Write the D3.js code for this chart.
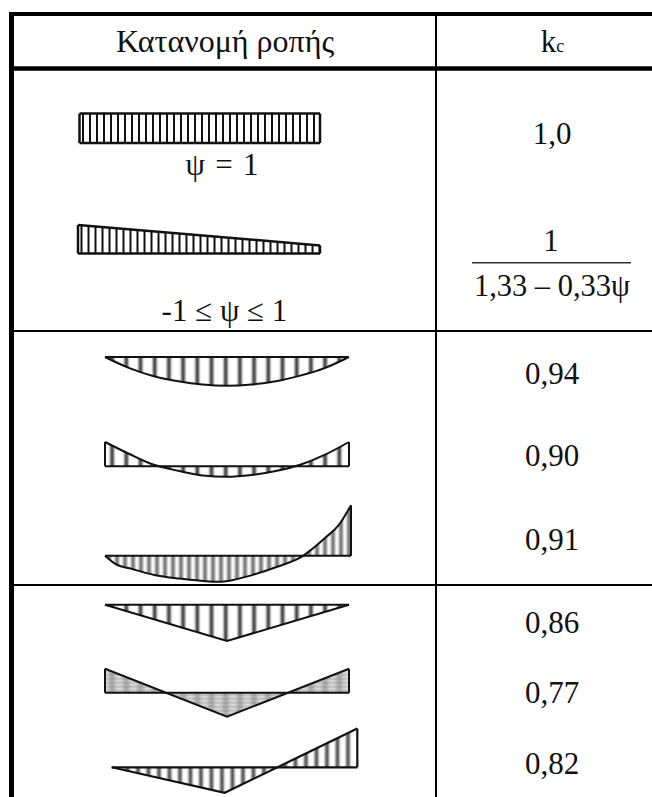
<!DOCTYPE html>
<html>
<head>
<meta charset="utf-8">
<script src="https://cdn.jsdelivr.net/npm/d3@7"></script>
<style>
  html, body { margin: 0; padding: 0; background: #fff; }
  text { font-family: "Liberation Serif", serif; fill: #111; }
</style>
</head>
<body>
<div id="vis"></div>
<script>
// moment along the beam, s = 0..1 along the span, positive hangs below the baseline
const headers = ["Κατανομή ροπής", "kc"];
const sUniform = [0, 1];
const mUniform = [-.98, -.98];
const sTaper = [0, 1];
const mTaper = [-.95, -.27];
const sParabola = [0, .1, .2, .3, .4, .5, .6, .7, .8, .9, 1];
const mParabola = [0, .37, .64, .81, .92, .96, .92, .81, .62, .37, 0];
const mDouble = [-.81, -.41, -.05, .15, .31, .35, .29, .16, -.05, -.38, -.81];
const sSkew = [0, .05, .1, .2, .3, .4, .45, .5, .6, .7, .8, .9, .95, 1];
const mSkew = [0, .31, .42, .64, .76, .84, .87, .84, .64, .37, .03, -.63, -1.02, -1.68];
const sPoint = [0, .5, 1];
const mPoint = [0, 1.21, 0];
const mPointDouble = [-.8, .8, -.8];
const sPointSkew = [0, .46, 1];
const mPointSkew = [0, .85, -1.29];
const kcLabels = ["1,0", "0,94", "0,90", "0,91", "0,86", "0,77", "0,82"];
const kcRowY = [144, 384, 466, 550, 632.7, 703, 774];

const W = 652, H = 797;
const svg = d3.select("#vis").append("svg")
  .attr("width", W).attr("height", H)
  .style("display", "block");

// table frame
const rules = [
  { x1: 9, x2: W, y1: 14, y2: 14, w: 4 },
  { x1: 9, x2: W, y1: 68.5, y2: 68.5, w: 4.5 },
  { x1: 11.5, x2: 11.5, y1: 12, y2: H, w: 5 },
  { x1: 436, x2: 436, y1: 12, y2: H, w: 2 },
  { x1: 9, x2: W, y1: 331, y2: 331, w: 2 },
  { x1: 9, x2: W, y1: 585, y2: 585, w: 2 }
];
svg.append("g").selectAll("line").data(rules).join("line")
  .attr("x1", d => d.x1).attr("x2", d => d.x2)
  .attr("y1", d => d.y1).attr("y2", d => d.y2)
  .attr("stroke", "#000").attr("stroke-width", d => d.w);

const defs = svg.append("defs");
defs.append("filter").attr("id", "soft")
  .attr("x", "-5%").attr("y", "-5%").attr("width", "110%").attr("height", "110%")
  .append("feGaussianBlur").attr("stdDeviation", "1.3 0.5");
defs.append("filter").attr("id", "softer")
  .attr("x", "-5%").attr("y", "-5%").attr("width", "110%").attr("height", "110%")
  .append("feGaussianBlur").attr("stdDeviation", "1.5 0.9");

// one moment diagram: baseline + closed curve + hatching
function diagram(id, s, m, opt) {
  const x = d3.scaleLinear().domain([0, 1]).range([opt.x0, opt.x1]);
  const y = d3.scaleLinear().domain([0, 1]).range([opt.base, opt.base + 30]);
  const pts = s.map((d, i) => [d, m[i]]);
  const g = svg.append("g");
  const area = d3.area()
    .x(d => x(d[0])).y0(y(0)).y1(d => y(d[1]))
    .curve(opt.curve);
  const line = d3.line()
    .x(d => x(d[0])).y(d => y(d[1]))
    .curve(opt.curve);

  defs.append("clipPath").attr("id", id).append("path").attr("d", area(pts));

  const clipped = g.append("g").attr("clip-path", `url(#${id})`)
    .append("g").attr("filter", opt.soft ? `url(#${opt.soft})` : null);

  clipped.append("g").selectAll("line")
    .data(d3.range(opt.x0 + opt.step / 2, opt.x1, opt.step)).join("line")
    .attr("x1", d => d).attr("x2", d => d)
    .attr("y1", y(-2)).attr("y2", y(2))
    .attr("stroke", opt.hatch).attr("stroke-width", opt.hw);

  // some diagrams scanned with a horizontal texture on top
  if (opt.rowStep) {
    clipped.append("g").selectAll("line")
      .data(d3.range(y(-1), y(1), opt.rowStep)).join("line")
      .attr("x1", opt.x0).attr("x2", opt.x1)
      .attr("y1", d => d).attr("y2", d => d)
      .attr("stroke", "#777").attr("stroke-width", 1.6);
  }

  // baseline
  g.append("line")
    .attr("x1", x(0)).attr("x2", x(1))
    .attr("y1", y(0)).attr("y2", y(0))
    .attr("stroke", "#111").attr("stroke-width", opt.sw);
  // curve
  g.append("path").attr("d", line(pts))
    .attr("fill", "none").attr("stroke", "#111").attr("stroke-width", opt.sw);
  // end posts where the diagram doesn't close on the baseline
  [0, pts.length - 1].forEach(i => {
    if (pts[i][1] !== 0) {
      g.append("line")
        .attr("x1", x(pts[i][0])).attr("x2", x(pts[i][0]))
        .attr("y1", y(0)).attr("y2", y(pts[i][1]))
        .attr("stroke", "#111").attr("stroke-width", opt.sw);
    }
  });
}

const smooth = d3.curveMonotoneX, straight = d3.curveLinear;
diagram("d1", sUniform, mUniform, { x0: 79.5, x1: 320, base: 143, curve: straight, step: 7, hatch: "#111", hw: 2, sw: 2.5 });
diagram("d2", sTaper, mTaper, { x0: 78, x1: 320, base: 253.5, curve: straight, step: 7, hatch: "#111", hw: 2, sw: 2.5 });
diagram("d3", sParabola, mParabola, { x0: 105, x1: 349, base: 357, curve: smooth, step: 14.2, hatch: "#333", hw: 3.5, sw: 2, soft: "soft" });
diagram("d4", sParabola, mDouble, { x0: 105, x1: 349, base: 466.3, curve: smooth, step: 14.2, hatch: "#333", hw: 3.5, sw: 2, soft: "soft" });
diagram("d5", sSkew, mSkew, { x0: 105, x1: 351, base: 555.7, curve: smooth, step: 8, hatch: "#666", hw: 3.5, sw: 2, soft: "soft" });
diagram("d6", sPoint, mPoint, { x0: 105, x1: 349, base: 604.7, curve: straight, step: 14.2, hatch: "#333", hw: 3.5, sw: 2, soft: "soft" });
diagram("d7", sPoint, mPointDouble, { x0: 105, x1: 349, base: 692.7, curve: straight, step: 14.2, hatch: "#bbb", hw: 6, sw: 2, soft: "softer", rowStep: 4 });
diagram("d8", sPointSkew, mPointSkew, { x0: 111.7, x1: 357.3, base: 767.3, curve: straight, step: 10.5, hatch: "#444", hw: 3.5, sw: 2.2, soft: "soft" });

// header
svg.append("text").attr("x", 225).attr("y", 52).attr("text-anchor", "middle")
  .attr("font-size", 32).text(headers[0]);
const kc = svg.append("text").attr("x", 552.5).attr("y", 52).attr("text-anchor", "middle").attr("font-size", 31);
kc.append("tspan").text(headers[1][0]);
kc.append("tspan").attr("font-size", 18).text(headers[1][1]);

// kc column
svg.append("g").attr("text-anchor", "middle").selectAll("text").data(kcLabels).join("text")
  .attr("x", 552).attr("y", (d, i) => kcRowY[i])
  .attr("font-size", 31).text(d => d);

// fraction
svg.append("text").attr("x", 551).attr("y", 250.5).attr("text-anchor", "middle")
  .attr("font-size", 31).text("1");
svg.append("line").attr("x1", 472).attr("x2", 631).attr("y1", 262.7).attr("y2", 262.7)
  .attr("stroke", "#333").attr("stroke-width", 1.6);
svg.append("text").attr("x", 552).attr("y", 296).attr("text-anchor", "middle")
  .attr("font-size", 31).attr("textLength", 156).attr("lengthAdjust", "spacingAndGlyphs")
  .text("1,33 – 0,33ψ");

// psi captions
svg.append("text").attr("x", 222).attr("y", 175).attr("text-anchor", "middle")
  .attr("font-size", 31).attr("textLength", 73).attr("lengthAdjust", "spacing").text("ψ = 1");
svg.append("text").attr("x", 224.5).attr("y", 320.5).attr("text-anchor", "middle")
  .attr("font-size", 31).text("-1 ≤ ψ ≤ 1");
</script>
</body>
</html>
